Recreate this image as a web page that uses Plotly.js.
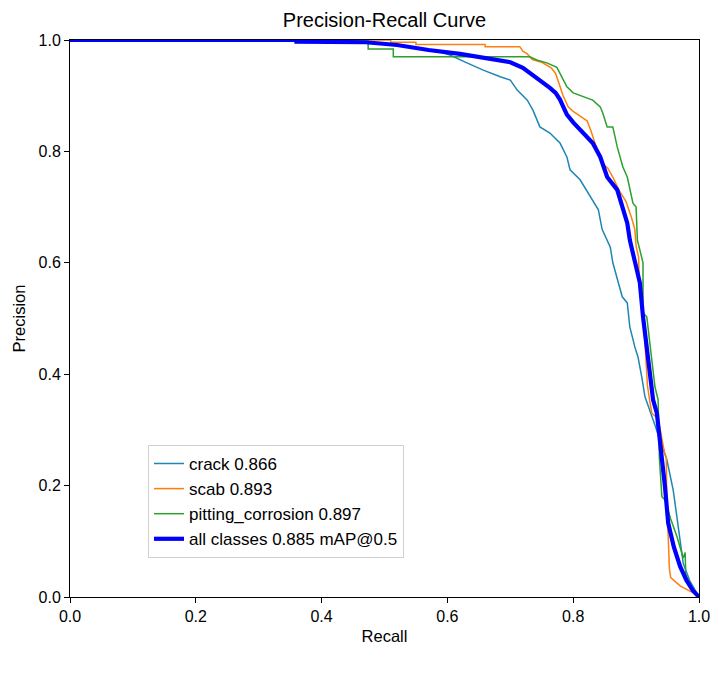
<!DOCTYPE html>
<html>
<head>
<meta charset="utf-8">
<script src="https://cdn.plot.ly/plotly-3.0.1.min.js"></script>
<style>html,body{margin:0;padding:0;background:#fff;}#chart{width:713px;height:673px;}</style>
</head>
<body>
<div id="chart"></div>
<script>
// Crack 0.866
const crackRecall = [0, 0.36, 0.36, 0.47, 0.52, 0.56, 0.59, 0.604, 0.631, 0.657, 0.684, 0.70, 0.711, 0.727, 0.736, 0.747, 0.763, 0.779, 0.79, 0.795, 0.811, 0.827, 0.84, 0.846, 0.859, 0.863, 0.87, 0.878, 0.886, 0.89, 0.898, 0.903, 0.909, 0.914, 0.927, 0.949, 0.959, 0.965, 0.97, 0.975, 0.985, 1.0];
const crackPrecision = [1, 1, 0.997, 0.996, 0.99, 0.985, 0.978, 0.973, 0.959, 0.946, 0.934, 0.928, 0.91, 0.892, 0.874, 0.844, 0.833, 0.815, 0.79, 0.767, 0.749, 0.718, 0.695, 0.66, 0.628, 0.6, 0.569, 0.539, 0.528, 0.485, 0.449, 0.431, 0.395, 0.36, 0.318, 0.246, 0.192, 0.144, 0.102, 0.06, 0.03, 0.0];

// Scab 0.893
const scabRecall = [0, 0.51, 0.51, 0.55, 0.55, 0.66, 0.66, 0.715, 0.72, 0.727, 0.735, 0.75, 0.765, 0.772, 0.778, 0.784, 0.792, 0.80, 0.815, 0.822, 0.828, 0.833, 0.84, 0.845, 0.855, 0.863, 0.873, 0.884, 0.893, 0.898, 0.90, 0.904, 0.905, 0.91, 0.914, 0.916, 0.918, 0.922, 0.925, 0.935, 0.94, 0.945, 0.948, 0.949, 0.951, 0.953, 0.955, 0.97, 0.99, 1.0];
const scabPrecision = [1, 1, 0.996, 0.996, 0.992, 0.992, 0.988, 0.988, 0.98, 0.975, 0.965, 0.96, 0.95, 0.94, 0.92, 0.90, 0.88, 0.872, 0.86, 0.855, 0.838, 0.82, 0.80, 0.78, 0.77, 0.754, 0.73, 0.71, 0.68, 0.66, 0.63, 0.61, 0.56, 0.5, 0.46, 0.42, 0.38, 0.35, 0.33, 0.32, 0.29, 0.26, 0.25, 0.15, 0.11, 0.05, 0.035, 0.02, 0.008, 0.0];

// Pitting corrosion 0.897
const pitRecall = [0, 0.474, 0.474, 0.514, 0.514, 0.731, 0.742, 0.758, 0.774, 0.779, 0.79, 0.80, 0.816, 0.831, 0.843, 0.847, 0.854, 0.863, 0.87, 0.874, 0.879, 0.886, 0.89, 0.895, 0.90, 0.902, 0.911, 0.911, 0.917, 0.922, 0.925, 0.93, 0.935, 0.937, 0.941, 0.946, 0.955, 0.965, 0.975, 0.978, 0.979, 0.99, 1.0];
const pitPrecision = [1, 1, 0.984, 0.984, 0.97, 0.97, 0.964, 0.959, 0.951, 0.94, 0.916, 0.905, 0.898, 0.892, 0.88, 0.869, 0.844, 0.844, 0.808, 0.79, 0.772, 0.754, 0.731, 0.707, 0.70, 0.641, 0.6, 0.51, 0.503, 0.456, 0.425, 0.377, 0.354, 0.25, 0.18, 0.174, 0.14, 0.108, 0.07, 0.08, 0.04, 0.015, 0.0];

// All classes 0.885 mAP@0.5
const allRecall = [0, 0.36, 0.36, 0.47, 0.52, 0.57, 0.62, 0.66, 0.70, 0.72, 0.736, 0.75, 0.763, 0.772, 0.779, 0.785, 0.79, 0.80, 0.811, 0.831, 0.843, 0.854, 0.87, 0.886, 0.89, 0.906, 0.911, 0.917, 0.922, 0.927, 0.933, 0.941, 0.946, 0.951, 0.96, 0.97, 0.98, 0.99, 1.0];
const allPrecision = [1, 1, 0.997, 0.996, 0.991, 0.982, 0.975, 0.968, 0.96, 0.95, 0.937, 0.925, 0.914, 0.905, 0.893, 0.878, 0.866, 0.852, 0.838, 0.815, 0.79, 0.754, 0.731, 0.671, 0.641, 0.564, 0.503, 0.443, 0.395, 0.354, 0.33, 0.251, 0.197, 0.133, 0.09, 0.055, 0.03, 0.012, 0.0];

const seriesNames = ['crack 0.866', 'scab 0.893', 'pitting_corrosion 0.897', 'all classes 0.885 mAP@0.5'];
const tickVals = [0, 0.2, 0.4, 0.6, 0.8, 1.0];
const tickText = ['0.0', '0.2', '0.4', '0.6', '0.8', '1.0'];

const FONT = 'Liberation Sans, Arial, sans-serif';

const traces = [
  {x: crackRecall, y: crackPrecision, name: seriesNames[0], mode: 'lines', line: {color: '#1f86b4', width: 1.5}},
  {x: scabRecall, y: scabPrecision, name: seriesNames[1], mode: 'lines', line: {color: '#ff7f0e', width: 1.5}},
  {x: pitRecall, y: pitPrecision, name: seriesNames[2], mode: 'lines', line: {color: '#2ca02c', width: 1.5}},
  {x: allRecall, y: allPrecision, name: seriesNames[3], mode: 'lines', line: {color: '#0000ff', width: 4.2}}
];

const axisCommon = {
  range: [0, 1],
  tickvals: tickVals,
  ticktext: tickText,
  ticks: 'outside',
  ticklen: 5,
  tickwidth: 1,
  tickcolor: '#000',
  showline: true,
  linecolor: '#000',
  linewidth: 1,
  mirror: true,
  showgrid: false,
  zeroline: false,
  tickfont: {family: FONT, size: 16, color: '#000'}
};

const layout = {
  width: 713,
  height: 673,
  margin: {l: 70, r: 14, t: 40, b: 76},
  paper_bgcolor: '#fff',
  plot_bgcolor: '#fff',
  showlegend: true,
  hovermode: false,
  title: {text: 'Precision-Recall Curve', x: 0.5, xref: 'paper', y: 1 - 20 / 673, yref: 'container', yanchor: 'middle', xanchor: 'center', font: {family: FONT, size: 20, color: '#000'}},
  xaxis: Object.assign({}, axisCommon, {title: {text: 'Recall', font: {family: FONT, size: 16.5, color: '#000'}, standoff: 6}}),
  yaxis: Object.assign({}, axisCommon, {title: {text: 'Precision', font: {family: FONT, size: 16.5, color: '#000'}, standoff: 8}}),
  legend: {
    x: 0.124, y: 0.273, xanchor: 'left', yanchor: 'top',
    bgcolor: 'rgba(255,255,255,0.8)', bordercolor: '#d0d0d0', borderwidth: 1,
    font: {family: FONT, size: 17, color: '#000'},
    tracegroupgap: 0
  }
};

Plotly.newPlot('chart', traces, layout, {displayModeBar: false, staticPlot: true});
</script>
</body>
</html>
